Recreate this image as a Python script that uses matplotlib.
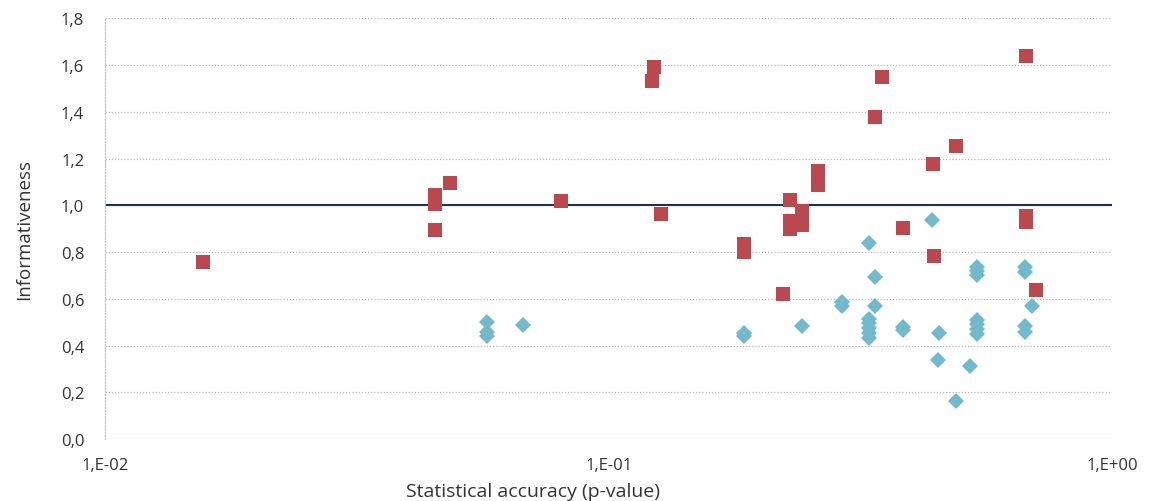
import matplotlib
matplotlib.use("Agg")
import matplotlib.pyplot as plt
from matplotlib.ticker import FixedLocator, FixedFormatter

# Red squares: p-value and informativeness
red_p = [0.01565, 0.0452, 0.0452, 0.0452, 0.0484, 0.0805, 0.1231, 0.122, 0.127,
         0.1856, 0.1856, 0.2222, 0.2294, 0.2294, 0.2294, 0.2426, 0.2426, 0.2426,
         0.2606, 0.2606, 0.3488, 0.338, 0.385, 0.4404, 0.443, 0.4892, 0.674,
         0.674, 0.674, 0.7054]
red_v = [0.757, 1.044, 1.006, 0.894, 1.094, 1.017, 1.59, 1.53, 0.963,
         0.834, 0.80, 0.620, 1.023, 0.933, 0.899, 0.976, 0.946, 0.916,
         1.147, 1.087, 1.547, 1.379, 0.903, 1.177, 0.784, 1.255, 1.637,
         0.954, 0.928, 0.639]

# Blue diamonds
blue_p = [0.0574, 0.0574, 0.0574, 0.0675, 0.1856, 0.1856, 0.2426, 0.2905, 0.2905,
          0.3292, 0.3292, 0.3292, 0.3292, 0.3292, 0.3292, 0.3373, 0.3373,
          0.385, 0.385, 0.4395, 0.4524, 0.451, 0.49, 0.5224,
          0.5386, 0.5386, 0.5386, 0.5386, 0.5386, 0.5386, 0.5386,
          0.6717, 0.6717, 0.6717, 0.6717, 0.693]
blue_v = [0.499, 0.456, 0.44, 0.488, 0.455, 0.44, 0.482, 0.585, 0.57,
          0.837, 0.515, 0.495, 0.475, 0.455, 0.43, 0.692, 0.568,
          0.48, 0.465, 0.937, 0.452, 0.339, 0.161, 0.311,
          0.735, 0.718, 0.70, 0.51, 0.49, 0.47, 0.45,
          0.735, 0.715, 0.483, 0.458, 0.571]

x_ticks = [0.01, 0.1, 1.0]
x_labels = ["1,E-02", "1,E-01", "1,E+00"]
y_ticks = [0.0, 0.2, 0.4, 0.6, 0.8, 1.0, 1.2, 1.4, 1.6, 1.8]
y_labels = ["0,0", "0,2", "0,4", "0,6", "0,8", "1,0", "1,2", "1,4", "1,6", "1,8"]

plt.rcParams['font.family'] = ['Open Sans', 'DejaVu Sans']

fig = plt.figure(figsize=(11.49, 5.02), dpi=100)
ax = fig.add_axes([0.0914, 0.1235, 0.968 - 0.0914, 0.9616 - 0.1235])

ax.set_xscale('log')
ax.set_xlim(0.01, 1.0)
ax.set_ylim(0, 1.8)

for y in y_ticks:
    ax.axhline(y, color='#b8b8b8', linestyle=(0, (1, 1.5)), linewidth=0.9, zorder=1)

ax.axhline(1.0, color='#1f3050', linewidth=1.5, zorder=2)

ax.plot(blue_p, blue_v, linestyle='none', marker='D', markersize=8.5,
        color='#72b9cd', markeredgewidth=0, zorder=3)
ax.plot(red_p, red_v, linestyle='none', marker='s', markersize=9.5,
        color='#b9484f', markeredgewidth=0, zorder=4)

ax.xaxis.set_major_locator(FixedLocator(x_ticks))
ax.xaxis.set_major_formatter(FixedFormatter(x_labels))
ax.xaxis.set_minor_locator(FixedLocator([]))
ax.yaxis.set_major_locator(FixedLocator(y_ticks))
ax.yaxis.set_major_formatter(FixedFormatter(y_labels))

for s in ['top', 'right', 'bottom']:
    ax.spines[s].set_visible(False)
ax.spines['left'].set_color('#c0c0c0')
ax.spines['left'].set_linestyle((0, (1, 1.5)))
ax.spines['left'].set_linewidth(0.9)

ax.tick_params(axis='both', length=0, labelsize=12, colors='#333333')
ax.tick_params(axis='y', pad=15)
ax.tick_params(axis='x', pad=13)

ax.set_xlabel("Statistical accuracy (p-value)", fontsize=14, color='#333333')
ax.xaxis.label.set_va('center')
ax.xaxis.set_label_coords(0.425, -0.124)
ax.set_ylabel("Informativeness", fontsize=13.5, color='#333333', labelpad=20)

fig.savefig("out.png", dpi=100, facecolor='white')
